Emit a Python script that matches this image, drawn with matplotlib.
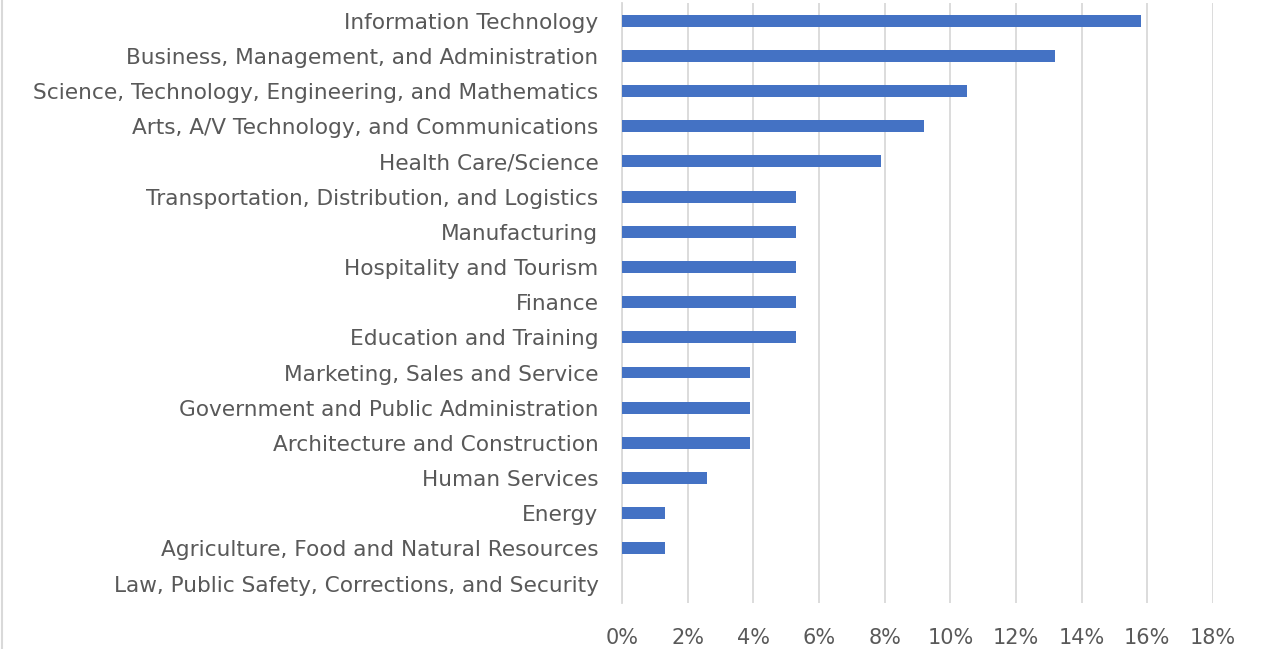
import matplotlib
matplotlib.use('Agg')
import matplotlib.pyplot as plt
from matplotlib.lines import Line2D
from matplotlib.ticker import PercentFormatter

# Career clusters, top to bottom as shown
clusters = [
    'Information Technology',
    'Business, Management, and Administration',
    'Science, Technology, Engineering, and Mathematics',
    'Arts, A/V Technology, and Communications',
    'Health Care/Science',
    'Transportation, Distribution, and Logistics',
    'Manufacturing',
    'Hospitality and Tourism',
    'Finance',
    'Education and Training',
    'Marketing, Sales and Service',
    'Government and Public Administration',
    'Architecture and Construction',
    'Human Services',
    'Energy',
    'Agriculture, Food and Natural Resources',
    'Law, Public Safety, Corrections, and Security',
]
# share of respondents, percent
shares = [15.8, 13.2, 10.5, 9.2, 7.9, 5.3, 5.3, 5.3, 5.3, 5.3,
          3.9, 3.9, 3.9, 2.6, 1.3, 1.3, 0.0]
x_ticks = [0, 2, 4, 6, 8, 10, 12, 14, 16, 18]

TEXT = '#595959'
GRID = '#d9d9d9'
BAR = '#4472c4'

plt.rcParams['font.family'] = ['DejaVu Sans']

W, H = 1261, 649
fig = plt.figure(figsize=(W / 100, H / 100), dpi=100)
ax = fig.add_axes([622 / W, 1 - 603 / H, (1213 - 622) / W, (603 - 3) / H])

pos = list(range(len(clusters)))
ax.barh(pos, shares, height=0.34, color=BAR, zorder=3)

ax.set_ylim(len(clusters) - 0.45, -0.5)
ax.set_xlim(0, 18)
ax.set_xticks(x_ticks)
ax.xaxis.set_major_formatter(PercentFormatter(decimals=0))
ax.set_yticks(pos)
ax.set_yticklabels(clusters)

ax.grid(axis='x', color=GRID, linewidth=1.3, zorder=0)
for s in ['top', 'right', 'bottom']:
    ax.spines[s].set_visible(False)
ax.spines['left'].set_color(GRID)
ax.spines['left'].set_linewidth(1.3)

ax.tick_params(axis='y', length=0, pad=17, labelsize=15.6, labelcolor=TEXT)
ax.tick_params(axis='x', length=0, pad=18, labelsize=15, labelcolor=TEXT)

# chart frame edge on the left
fig.add_artist(Line2D([2 / W, 2 / W], [0, 1], color=GRID, linewidth=1.5,
                      transform=fig.transFigure))

fig.savefig('out.png', dpi=100)
